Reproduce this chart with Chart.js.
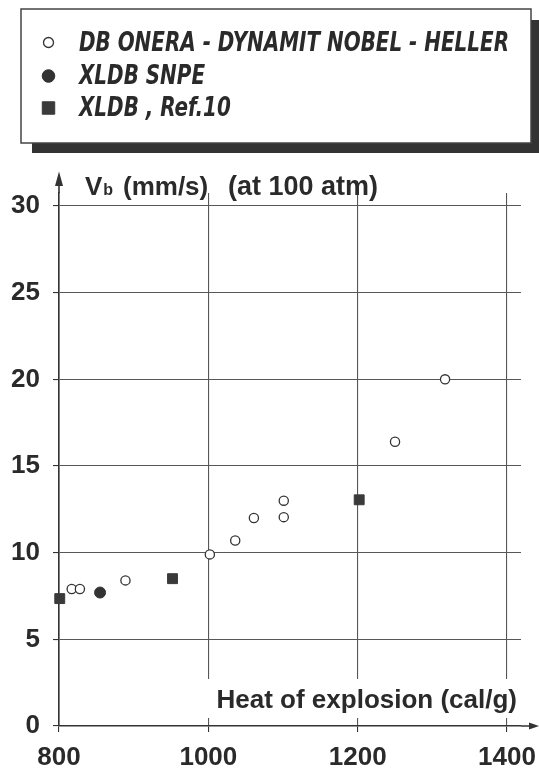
<!DOCTYPE html>
<html>
<head>
<meta charset="utf-8">
<script src="https://cdn.jsdelivr.net/npm/chart.js@4/dist/chart.umd.min.js"></script>
<style>
html,body{margin:0;padding:0;background:#fff;}
#c{display:block;}
</style>
</head>
<body>
<canvas id="c" width="539" height="772"></canvas>
<script>
// ---- data ----
const seriesLabels = ["DB ONERA - DYNAMIT NOBEL - HELLER", "XLDB SNPE", "XLDB , Ref.10"];
const dbHeat  = [817, 828, 889, 1002, 1036, 1061, 1101, 1101, 1250, 1317];
const dbRate  = [7.9, 7.9, 8.4, 9.9, 10.7, 12.0, 13.0, 12.05, 16.4, 20.0];
const snpeHeat = [855];
const snpeRate = [7.7];
const refHeat = [801, 952, 1202];
const refRate = [7.35, 8.5, 13.05];
const xTicks = [800, 1000, 1200, 1400];
const yTicks = [0, 5, 10, 15, 20, 25, 30];
const xTitle = "Heat of explosion (cal/g)";
const yTitleMain = "V";
const yTitleSub = "b";
const yTitleUnit = "(mm/s)";
const yTitleNote = "(at 100 atm)";

const TEXT = '#2a2a2a';
const GRID = '#575757';
const AXIS = '#333333';
const FONT = '"Liberation Sans", Arial, Helvetica, sans-serif';
const LEGEND_FONT = '"Liberation Sans Narrow", "DejaVu Sans Condensed", "Liberation Sans", sans-serif';

function pts(xs, ys) { return xs.map((x, i) => ({x: x, y: ys[i]})); }

const datasets = [
  {label: seriesLabels[0], data: pts(dbHeat, dbRate), pointStyle: 'circle', pointRadius: 4.6,
   backgroundColor: '#ffffff', borderColor: '#333', pointBorderWidth: 1.3, clip: false},
  {label: seriesLabels[1], data: pts(snpeHeat, snpeRate), pointStyle: 'circle', pointRadius: 5.5,
   backgroundColor: '#333', borderColor: '#333', pointBorderWidth: 1, clip: false},
  {label: seriesLabels[2], data: pts(refHeat, refRate), pointStyle: 'rect', pointRadius: 7,
   backgroundColor: '#3a3a3a', borderColor: '#3a3a3a', pointBorderWidth: 1, clip: false}
];

const deco = {
  id: 'deco',
  beforeDraw(chart) {
    const ctx = chart.ctx;
    ctx.save();
    ctx.fillStyle = '#fff';
    ctx.fillRect(0, 0, chart.width, chart.height);
    // legend shadow + box
    ctx.fillStyle = '#333';
    ctx.fillRect(32, 20, 507, 133);
    ctx.fillStyle = '#fff';
    ctx.fillRect(21, 9, 510, 134);
    ctx.strokeStyle = '#444';
    ctx.lineWidth = 1.5;
    ctx.strokeRect(21, 9, 510, 134);
    // legend entries
    ctx.font = 'italic bold 27px ' + LEGEND_FONT;
    const w0 = ctx.measureText(seriesLabels[0]).width;
    const sx = 430 / w0;
    const rows = [42.5, 76, 108];
    const legSizes = [5, 6.3, 8.8];
    ctx.textBaseline = 'middle';
    ctx.textAlign = 'left';
    chart.data.datasets.forEach((ds, i) => {
      ctx.save();
      ctx.fillStyle = ds.backgroundColor;
      ctx.strokeStyle = ds.borderColor;
      ctx.lineWidth = ds.pointBorderWidth;
      Chart.helpers.drawPoint(ctx, {pointStyle: ds.pointStyle, radius: legSizes[i], rotation: 0, borderWidth: ds.pointBorderWidth}, 48.5, rows[i]);
      ctx.restore();
      ctx.save();
      ctx.fillStyle = TEXT;
      ctx.translate(79, rows[i] + 1);
      ctx.scale(sx, 1);
      ctx.fillText(ds.label, 0, 0);
      ctx.restore();
    });
    ctx.restore();
  },
  afterDraw(chart) {
    const ctx = chart.ctx;
    const a = chart.chartArea;
    ctx.save();
    // mask behind x title and title text
    ctx.fillStyle = '#fff';
    ctx.fillRect(196, 679, a.right - 196 + 2, 39);
    ctx.fillStyle = TEXT;
    ctx.font = 'bold 26px ' + FONT;
    ctx.textAlign = 'right';
    ctx.textBaseline = 'alphabetic';
    ctx.fillText(xTitle, 517, 708);
    // axis extensions with arrows
    ctx.strokeStyle = AXIS;
    ctx.fillStyle = AXIS;
    ctx.lineWidth = 1.6;
    ctx.beginPath();
    ctx.moveTo(a.left, a.top);
    ctx.lineTo(a.left, 180);
    ctx.moveTo(a.right, a.bottom);
    ctx.lineTo(531, a.bottom);
    ctx.stroke();
    ctx.beginPath();
    ctx.moveTo(a.left, 171.5);
    ctx.lineTo(a.left - 4, 186);
    ctx.lineTo(a.left + 4, 186);
    ctx.closePath();
    ctx.fill();
    ctx.beginPath();
    ctx.moveTo(539, a.bottom);
    ctx.lineTo(529, a.bottom - 3.5);
    ctx.lineTo(529, a.bottom + 3.5);
    ctx.closePath();
    ctx.fill();
    // y title with subscript
    ctx.fillStyle = TEXT;
    ctx.textAlign = 'left';
    ctx.font = 'bold 26px ' + FONT;
    ctx.fillText(yTitleMain, 85, 195);
    const vw = ctx.measureText(yTitleMain).width;
    ctx.font = 'bold 16px ' + FONT;
    ctx.fillText(yTitleSub, 85 + vw + 1, 195);
    ctx.font = 'bold 26px ' + FONT;
    ctx.fillText(yTitleUnit, 123, 195);
    ctx.font = 'bold 27px ' + FONT;
    ctx.fillText(yTitleNote, 228, 195);
    ctx.restore();
  }
};

new Chart(document.getElementById('c'), {
  type: 'scatter',
  data: {datasets: datasets},
  options: {
    responsive: false,
    devicePixelRatio: 1,
    animation: false,
    events: [],
    layout: {padding: {top: 193, right: 18, left: 0, bottom: 0}},
    plugins: {legend: {display: false}, tooltip: {enabled: false}},
    scales: {
      x: {
        type: 'linear', min: 800, max: 1418.7,
        afterBuildTicks: (s) => { s.ticks = xTicks.map(v => ({value: v})); },
        afterFit: (s) => { s.height = 46; s.paddingLeft = 0; s.paddingRight = 0; },
        grid: {color: GRID, lineWidth: 1.1, drawTicks: true, tickLength: 6, tickColor: AXIS},
        border: {display: true, color: AXIS, width: 1.6},
        ticks: {color: TEXT, font: {family: FONT, size: 26, weight: 'bold'}, padding: 10, autoSkip: false, maxRotation: 0,
                callback: (v) => String(v)}
      },
      y: {
        type: 'linear', min: 0, max: 30.75,
        afterBuildTicks: (s) => { s.ticks = yTicks.map(v => ({value: v})); },
        afterFit: (s) => { s.width = 59; },
        grid: {color: GRID, lineWidth: 1.1, drawTicks: true, tickLength: 6, tickColor: AXIS},
        border: {display: true, color: AXIS, width: 1.6},
        ticks: {color: TEXT, font: {family: FONT, size: 26, weight: 'bold'}, padding: 13, autoSkip: false,
                callback: (v) => String(v)}
      }
    }
  },
  plugins: [deco]
});
</script>
</body>
</html>
